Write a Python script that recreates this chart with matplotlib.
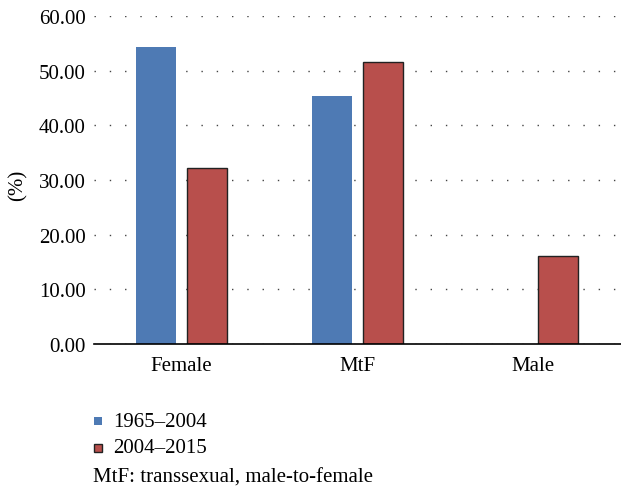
import matplotlib
matplotlib.use('Agg')
import matplotlib.pyplot as plt
import numpy as np

categories = ['Female', 'MtF', 'Male']
series_names = ['1965\u20132004', '2004\u20132015']
values_1965_2004 = [54.3, 45.4, 0.0]
values_2004_2015 = [32.2, 51.6, 16.1]
yticks = [0, 10, 20, 30, 40, 50, 60]

blue = '#4e7ab4'
red = '#b84f4c'

plt.rcParams['font.family'] = ['Liberation Serif', 'DejaVu Serif']
fs = 15

fig = plt.figure(figsize=(6.21, 4.89), dpi=100)
ax = fig.add_axes([0.151, 0.2945, 0.849, 0.6705])

x = np.arange(len(categories)) + 0.5
w = 0.227
off = 0.1435
ax.bar(x - off, values_1965_2004, w, color=blue, edgecolor='none', zorder=3)
ax.bar(x + off, values_2004_2015, w, color=red, edgecolor='#222222', linewidth=1.0, zorder=3)

ax.set_xlim(0, 3)
ax.set_ylim(0, 60)
ax.set_yticks(yticks)
ax.set_yticklabels(['%.2f' % v for v in yticks], fontsize=fs)
ax.set_xticks(x)
ax.set_xticklabels(categories, fontsize=fs)
ax.tick_params(axis='y', length=0, pad=6)
ax.tick_params(axis='x', length=0, pad=9)
ax.yaxis.grid(True, linestyle=(0, (1, 10)), color='#444444', linewidth=1.0, zorder=0)
ax.set_axisbelow(True)
for s in ['left', 'right', 'top']:
    ax.spines[s].set_visible(False)
ax.spines['bottom'].set_color('black')
ax.spines['bottom'].set_linewidth(1.2)
ax.spines['bottom'].set_zorder(4)

fig.text(18 / 621, 1 - 185 / 489, '(%)', rotation=90, fontsize=fs, ha='center', va='center')

# legend and note
fig.patches.append(plt.Rectangle((94 / 621, 1 - 426 / 489), 8 / 621, 8 / 489,
                                 transform=fig.transFigure, facecolor=blue, edgecolor='none'))
fig.patches.append(plt.Rectangle((94 / 621, 1 - 453 / 489), 8 / 621, 8 / 489,
                                 transform=fig.transFigure, facecolor=red, edgecolor='#222222', linewidth=1.0))
fig.text(113 / 621, 1 - 423 / 489, series_names[0], fontsize=fs, va='center')
fig.text(113 / 621, 1 - 449 / 489, series_names[1], fontsize=fs, va='center')
fig.text(93 / 621, 1 - 478 / 489, 'MtF: transsexual, male-to-female', fontsize=fs, va='center')

fig.savefig('out.png', dpi=100)
